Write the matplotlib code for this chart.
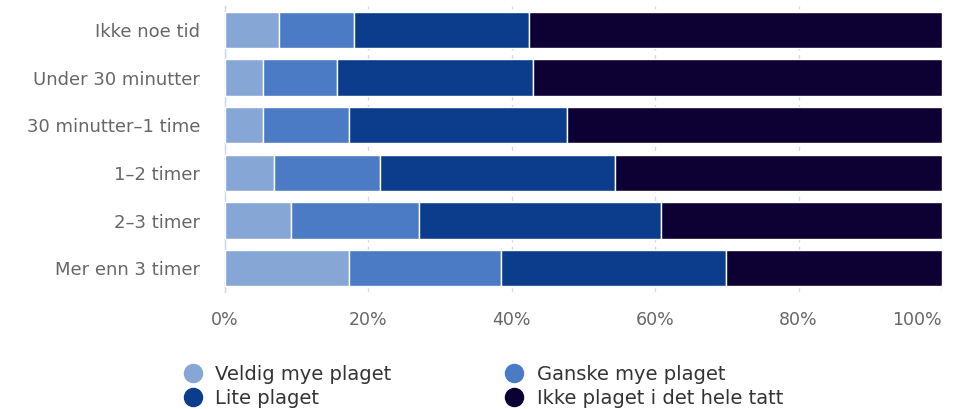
import matplotlib
matplotlib.use("Agg")
import matplotlib.pyplot as plt
from matplotlib.lines import Line2D
import numpy as np

categories = ["Ikke noe tid", "Under 30 minutter", "30 minutter\u20131 time",
              "1\u20132 timer", "2\u20133 timer", "Mer enn 3 timer"]
series_names = ["Veldig mye plaget", "Ganske mye plaget", "Lite plaget",
                "Ikke plaget i det hele tatt"]
veldig = [7.5, 5.3, 5.3, 6.8, 9.2, 17.3]
ganske = [10.5, 10.3, 12.0, 14.8, 17.9, 21.2]
lite = [24.4, 27.4, 30.4, 32.8, 33.7, 31.4]
ikke = [57.6, 57.0, 52.3, 45.6, 39.2, 30.1]
colors = ["#86a6d6", "#4a7bc4", "#0b3d8c", "#0d0033"]
xticks = [0, 20, 40, 60, 80, 100]

plt.rcParams['font.family'] = ['DejaVu Sans']
fig = plt.figure(figsize=(9.64, 4.09), dpi=100)
ax = fig.add_axes([225/964, 1-292/409, 717/964, 286/409])

y = np.arange(len(categories))
left = np.zeros(len(categories))
for vals, c, name in zip([veldig, ganske, lite, ikke], colors, series_names):
    ax.barh(y, vals, left=left, height=0.76, color=c, edgecolor="white",
            linewidth=1, label=name, zorder=3)
    left += np.array(vals)

ax.set_ylim(len(categories)-0.5, -0.5)
ax.set_xlim(0, 100)
ax.set_yticks(y)
ax.set_yticklabels(categories, fontsize=13, color="#666666")
ax.set_xticks(xticks)
xl = ax.set_xticklabels([f"{t}%" for t in xticks], fontsize=12.5, color="#666666")
xl[-1].set_horizontalalignment("right")
ax.tick_params(axis='y', length=0, pad=18)
ax.tick_params(axis='x', length=0, pad=14)
ax.grid(axis='x', color="#d8d8d8", linestyle=(0, (3, 3)), linewidth=1, zorder=0)
for s in ["top", "right", "bottom"]:
    ax.spines[s].set_visible(False)
ax.spines["left"].set_color("#ccd6eb")
ax.spines["left"].set_linewidth(1)

handles = [Line2D([0], [0], marker='o', color='none', markerfacecolor=c,
                  markeredgecolor=c, markersize=13) for c in colors]
order = [0, 2, 1, 3]
fig.legend([handles[i] for i in order], [series_names[i] for i in order],
           loc="upper left", ncol=2,
           bbox_to_anchor=(183/964, 1-365/409), frameon=False, fontsize=14,
           labelcolor="#333333", handletextpad=0.65, columnspacing=5.83,
           labelspacing=0.27, handlelength=1.0, borderaxespad=0, borderpad=0)

fig.savefig("out.png", dpi=100)
